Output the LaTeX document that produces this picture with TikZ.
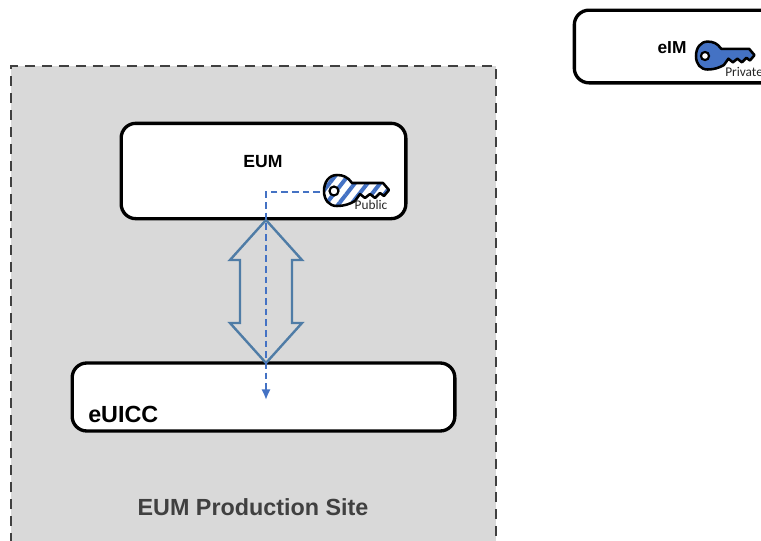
\documentclass[tikz,border=0pt]{standalone}
\usepackage{fontspec}
\setmainfont{Liberation Sans}
\newfontfamily\keyfont{Carlito}
\usetikzlibrary{arrows.meta, patterns.meta}

\definecolor{sitegray}{HTML}{D9D9D9}
\definecolor{sitetext}{HTML}{404040}
\definecolor{keyblue}{HTML}{4472C4}
\definecolor{arrowblue}{HTML}{4F7CA6}

\tikzset{
	boxnode/.style={draw=black, fill=white, line width=2.5pt, rounded corners=11pt, inner sep=0},
	keybody/.style={fill=keyblue},
	hatchkey/.style={keybody/.style={preaction={fill=white}, pattern={Lines[angle=52, distance=7.5pt, line width=3pt]}, pattern color=keyblue}},
	pics/keyicon/.style={code={
		\draw[keybody, draw=black, line width=1.9pt, line join=round] (15,-8) .. controls (11,-14) and (6,-16) .. (0,-16)
		.. controls (-8,-16) and (-13,-9) .. (-13,0) .. controls (-13,9) and (-8,15) .. (0,15)
		.. controls (7,15) and (13,13) .. (18,10) --(23,3)--(28,7)--(33,3)--(38,7)--(43,2)--(47,5)--(52,-1)--(46,-8)--cycle;
		\draw[fill=white, draw=black, line width=1.6pt] (-3,0) circle(4.5);
	}}
}

\begin{document}
\begin{tikzpicture}[>=latex, x=0.75pt, y=-0.75pt]

\useasboundingbox (0,0) rectangle (761,540);
\clip (0,0) rectangle (761,540);

\fill[sitegray] (11,66) rectangle (496,560);
\draw[sitetext, line width=2.1pt, dash pattern=on 7.5pt off 5.2pt] (11,560)--(11,66)--(496,66)--(496,560);

\node[boxnode, minimum width=213.5pt, minimum height=71.5pt] (eum) at (263.5,171) {};
\node[boxnode, minimum width=287pt, minimum height=51pt] (euicc) at (263.5,397) {};
\node[boxnode, minimum width=151pt, minimum height=54.5pt] (eim) at (675,46.5) {};

\node[font=\bfseries\fontsize{13.2}{15}\selectfont] (eumlabel) at (263,162) {EUM};
\node[font=\bfseries\fontsize{17.5}{20}\selectfont, anchor=west, inner sep=0] (euicclabel) at (88,414) {eUICC};
\node[font=\bfseries\fontsize{13}{15}\selectfont] (eimlabel) at (672,48) {eIM};
\node[font=\bfseries\fontsize{17.5}{20}\selectfont, text=sitetext] (sitelabel) at (253,507) {EUM Production Site};

\coordinate (arrowtop) at (266,220);
\coordinate (arrowbottom) at (266,363);
\draw[arrowblue, line width=1.8pt, miter limit=10] (arrowtop)--++(-36,40)--++(10,0)--++(0,63)--++(-10,0)--(arrowbottom)
--++(36,-40)--++(-10,0)--++(0,-63)--++(10,0)--cycle;

\pic[hatchkey] (pubkey) at (337,191) {keyicon};
\pic[scale=0.9] (privkey) at (707.7,56) {keyicon};

\node[font=\keyfont\fontsize{10}{11}\selectfont, text=black!85, inner sep=0] (publabel) at (371,205) {Public};
\node[font=\keyfont\fontsize{10}{11}\selectfont, text=black!85, inner sep=0, anchor=west] (privlabel) at (725,72) {Private};

\coordinate (keyport) at (320,192);
\coordinate (dashend) at (266,400);
\draw[keyblue, line width=1.6pt, dash pattern=on 5pt off 3pt, -{Latex[length=8pt, width=7pt]}] (keyport) -| (dashend);

\end{tikzpicture}
\end{document}
